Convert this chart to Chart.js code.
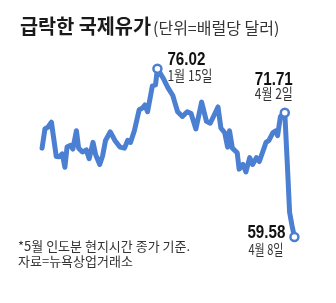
<!DOCTYPE html>
<html>
<head>
<meta charset="utf-8">
<script src="https://cdn.jsdelivr.net/npm/chart.js@4"></script>
<style>
  html, body { margin: 0; padding: 0; background: #fff; }
  #wrap { position: relative; width: 336px; height: 303px; }
</style>
</head>
<body>
<div id="wrap"><canvas id="oilChart" width="336" height="303"></canvas></div>
<script>
// trading-day index (0 = start of the chart) and WTI May contract price, $/bbl
const days = [0, 1.2, 2.5, 3.9, 4.4, 5.9, 7.2, 8.4, 9.5, 10.4, 11.9, 12.8, 14.3, 15.2, 16.8, 18.4, 19.6,
  21.2, 22.3, 24, 25.2, 26.4, 28.4, 30.3, 32.4, 34.3, 35.6, 36.8, 38.4, 40.4, 41.9, 42.8, 43.9, 45.9,
  47.2, 48, 50.4, 52.4, 54.4, 55.2, 56.4, 58.4, 60.4, 62, 64, 66.4, 68.4, 70, 73.2, 74.4, 76, 77.2,
  78, 79.2, 81.2, 82, 83.6, 84.8, 86.4, 87.6, 89.2, 90.4, 93.2, 94.4, 96, 97.2, 98, 99.2, 100.4, 101,
  102, 103, 104, 105];
const prices = [68.26, 70.13, 70.32, 70.79, 69.95, 67.45, 67.42, 67.70, 66.39, 68.36, 68.54, 68.17, 69.95,
  68.26, 67.89, 68.08, 67.23, 68.82, 67.61, 66.67, 67.52, 69.01, 69.85, 69.01, 68.36, 68.26, 69.01,
  68.82, 69.95, 72.00, 72.19, 72.47, 71.81, 74.34, 74.43, 76.02, 75.09, 74.15, 73.40, 72.75, 71.81,
  71.35, 71.81, 71.63, 70.13, 72.75, 70.88, 70.69, 72.28, 70.23, 69.76, 68.36, 69.95, 68.26, 67.80,
  66.21, 66.67, 65.93, 67.33, 66.67, 67.33, 66.95, 68.82, 69.01, 69.76, 69.95, 69.48, 71.35, 71.63,
  71.71, 66.95, 61.99, 60.70, 59.58];

// highlighted points: day index, price label, date label
const markDays = [48, 101, 105];
const markPrices = ['76.02', '71.71', '59.58'];
const markDates = ['1월 15일', '4월 2일', '4월 8일'];

const blue = '#4b7fd1';
const points = days.map((d, i) => ({ x: d, y: prices[i] }));
const markIdx = markDays.map(d => days.indexOf(d));

const textPlugin = {
  id: 'texts',
  afterDraw(chart) {
    const c = chart.ctx;
    const meta = chart.getDatasetMeta(0);
    c.save();
    c.textBaseline = 'alphabetic';

    // title
    c.fillStyle = '#1a1a1a';
    c.font = 'bold 20px "Noto Sans CJK KR"';
    c.fillText('급락한 국제유가', 20, 34, 131);
    c.fillStyle = '#333';
    c.font = '16px "Noto Sans CJK KR"';
    c.fillText('(단위=배럴당 달러)', 153, 34, 130);

    // point labels, placed relative to the points
    const offs = [
      { dx: 10, dy: -4, dy2: 12, align: 'left', w: 45 },
      { dx: -30, dy: -28, dy2: -14, align: 'left', w: 38 },
      { dx: -9, dy: 1, dy2: 18, align: 'right', w: 35 }
    ];
    markIdx.forEach((idx, k) => {
      const p = meta.data[idx];
      const o = offs[k];
      c.textAlign = o.align;
      c.fillStyle = '#111';
      c.font = 'bold 19px "Liberation Sans Narrow", "Liberation Sans"';
      c.fillText(markPrices[k], p.x + o.dx, p.y + o.dy, 38);
      c.fillStyle = '#333';
      c.font = '15px "Noto Sans CJK KR"';
      const lx = o.align === 'right' ? p.x + o.dx - 2 : p.x + o.dx;
      c.fillText(markDates[k], lx, p.y + o.dy2, o.w);
    });

    // footnote
    c.textAlign = 'left';
    c.fillStyle = '#333';
    c.font = '13px "Noto Sans CJK KR"';
    c.fillText('*5월 인도분 현지시간 종가 기준.', 18, 251, 177);
    c.fillText('자료=뉴욕상업거래소', 18, 266, 124);
    c.restore();
  }
};

new Chart(document.getElementById('oilChart'), {
  type: 'line',
  data: {
    datasets: [{
      data: points,
      borderColor: blue,
      borderWidth: 5,
      borderJoinStyle: 'round',
      borderCapStyle: 'round',
      tension: 0,
      pointRadius: ctx => markIdx.includes(ctx.dataIndex) ? 4 : 0,
      pointBackgroundColor: '#fff',
      pointBorderColor: blue,
      pointBorderWidth: 2.5
    }]
  },
  options: {
    responsive: false,
    animation: false,
    layout: { padding: 0 },
    plugins: { legend: { display: false }, tooltip: { enabled: false } },
    scales: {
      x: { type: 'linear', display: false, min: -14.8, max: 119.6 },
      y: { display: false, min: 53.77, max: 82.09 }
    }
  },
  plugins: [textPlugin]
});
</script>
</body>
</html>
